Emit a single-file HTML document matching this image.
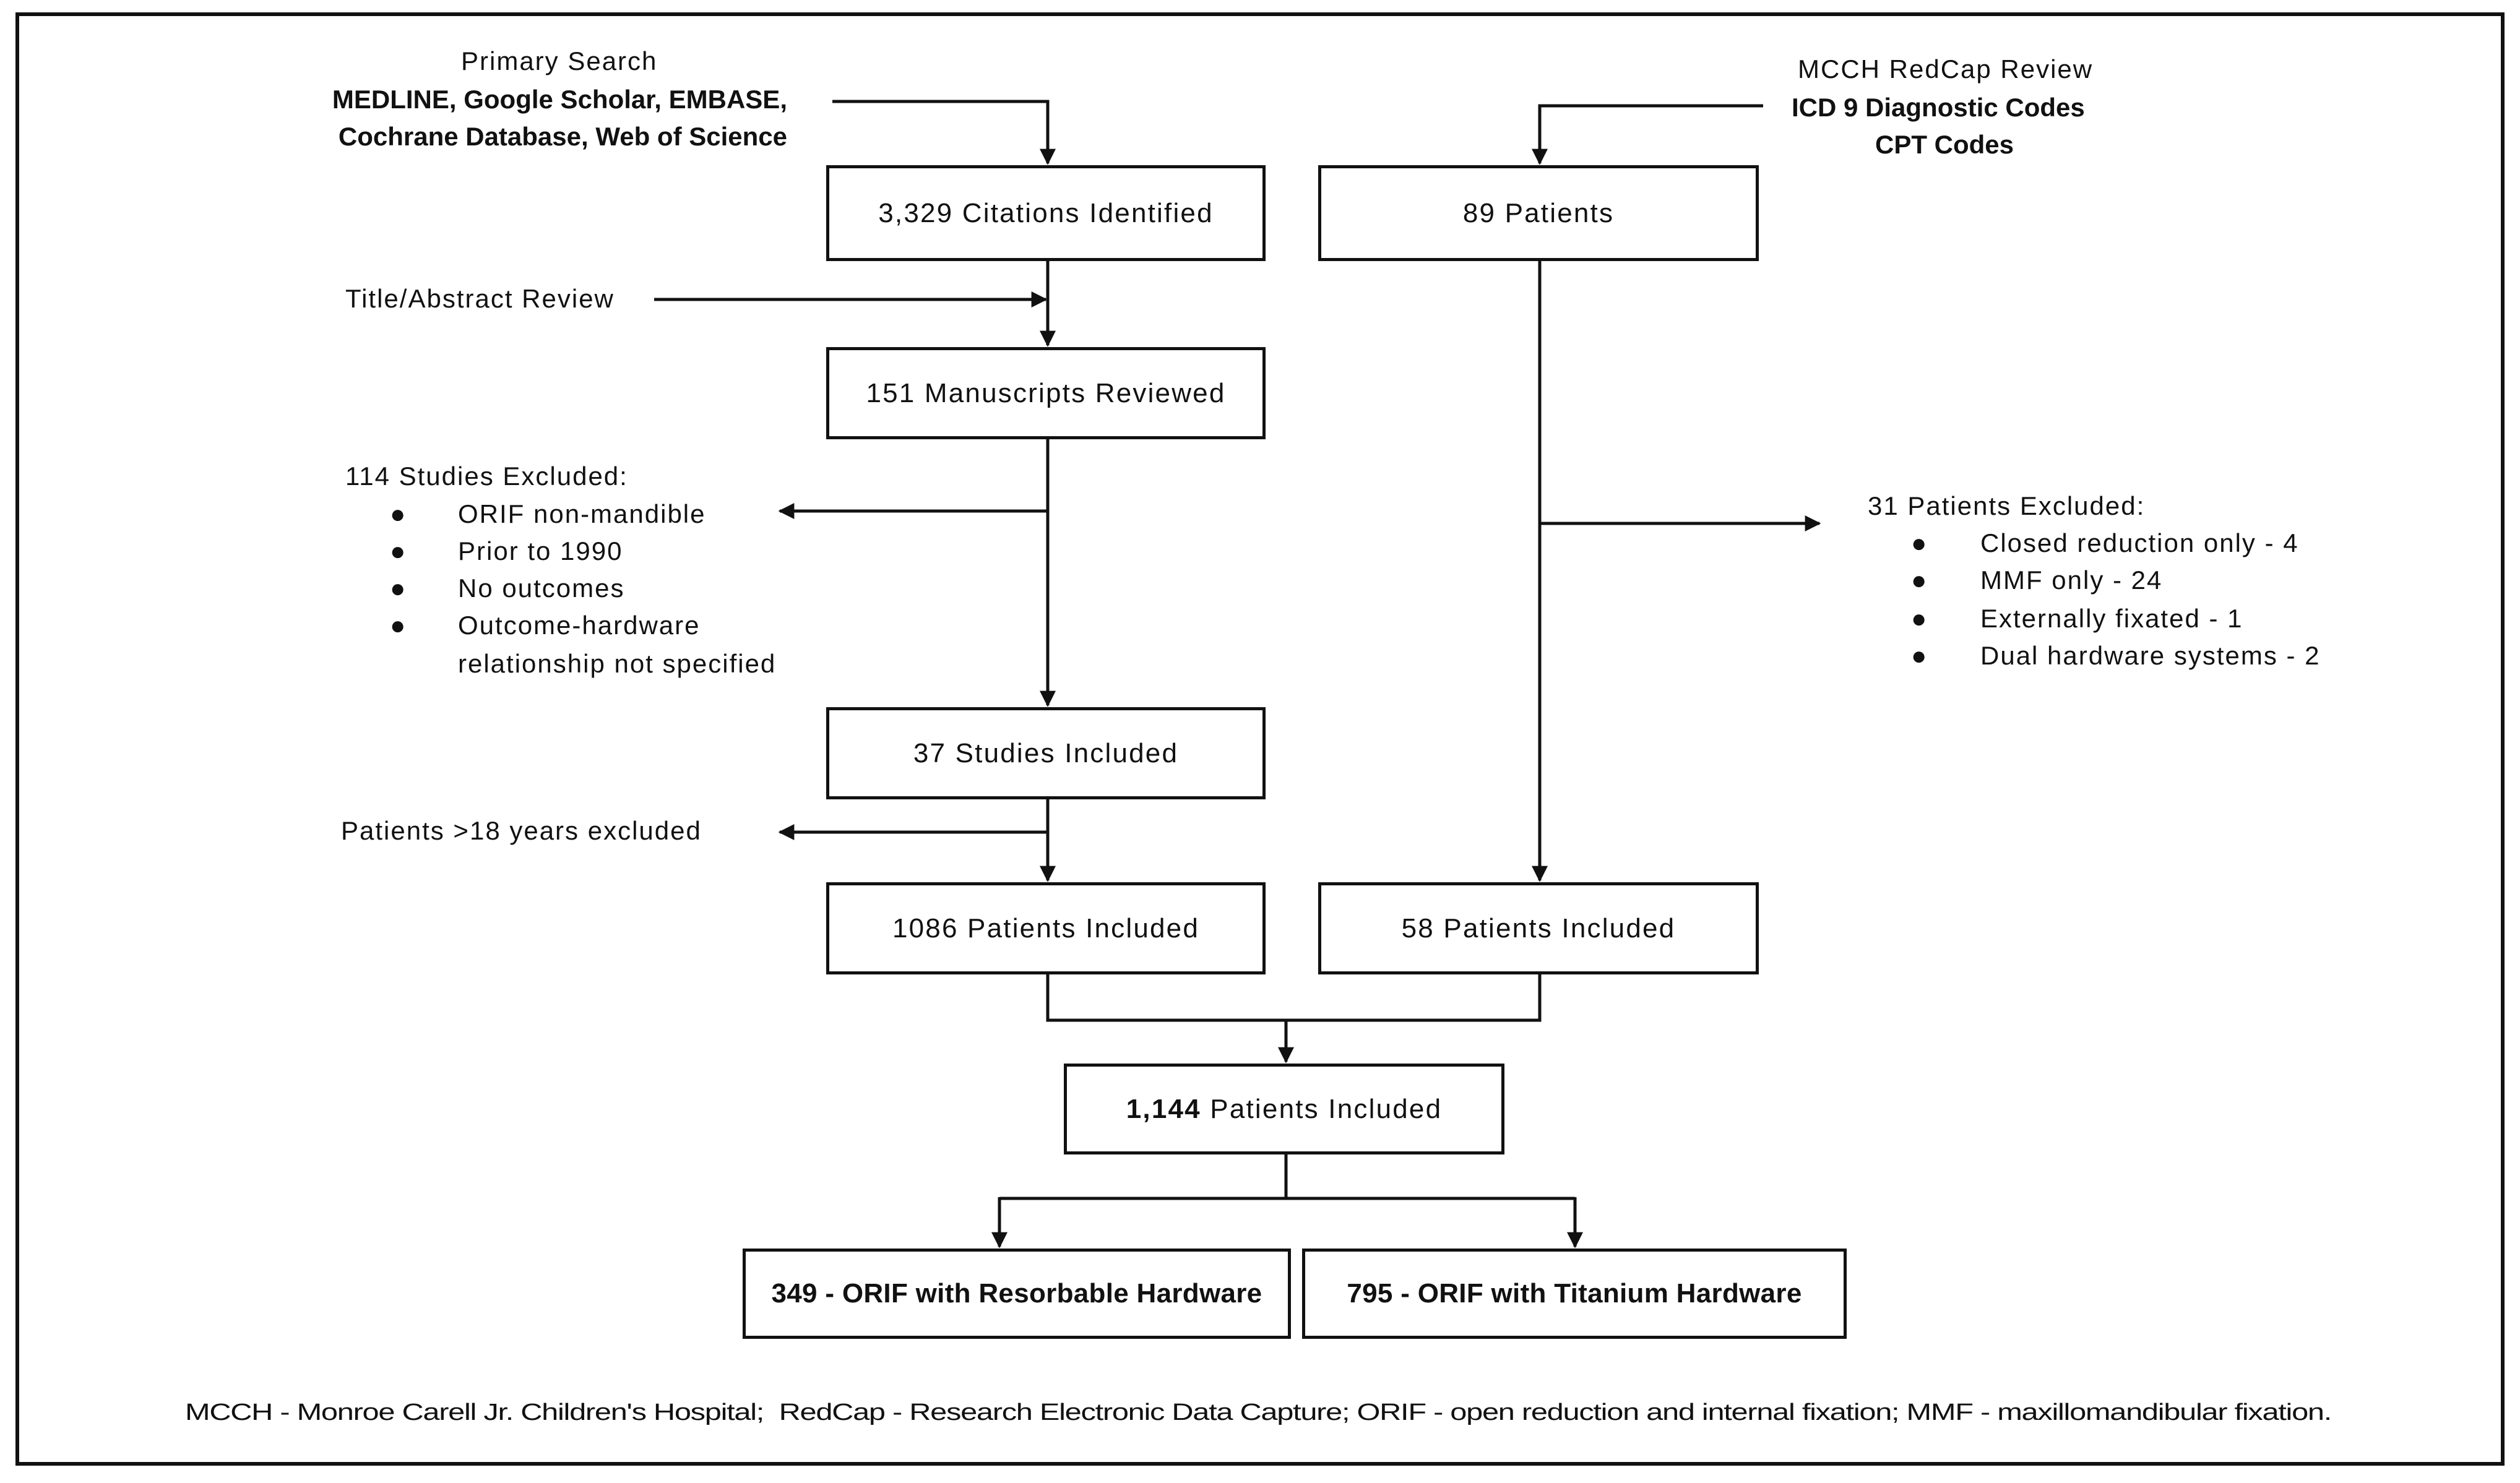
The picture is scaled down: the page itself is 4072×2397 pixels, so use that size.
<!DOCTYPE html>
<html><head><meta charset="utf-8"><style>
body{margin:0;background:#fff;}
#c{position:relative;width:4072px;height:2397px;background:#fff;overflow:hidden;font-family:"Liberation Sans",sans-serif;color:#111;}
.t{position:absolute;font-size:42px;white-space:nowrap;line-height:60px;transform:translateY(-50%);letter-spacing:2px;}
.b{font-weight:bold;}
.box{position:absolute;border:5px solid #111;box-sizing:border-box;display:flex;align-items:center;justify-content:center;font-size:44px;letter-spacing:2.2px;}
.box.b{letter-spacing:0.3px;}
svg{position:absolute;left:0;top:0;}
</style></head><body><div id="c">
<svg width="4072" height="2397">
<defs>
<marker id="m" viewBox="0 0 10 10" refX="9" refY="5" markerWidth="26" markerHeight="26" markerUnits="userSpaceOnUse" orient="auto"><path d="M0,0 L10,5 L0,10z" fill="#111"/></marker></defs>
<rect x="28" y="23" width="4016" height="2343" fill="none" stroke="#111" stroke-width="6"/>
<g stroke="#111" stroke-width="5" fill="none">
<path d="M1345 164 H1693 V264" marker-end="url(#m)"/>
<path d="M2849 171 H2488 V264" marker-end="url(#m)"/>
<path d="M1057 484 H1690" marker-end="url(#m)"/>
<path d="M1693 421 V558" marker-end="url(#m)"/>
<path d="M1693 709 V1140" marker-end="url(#m)"/>
<path d="M1693 826 H1260" marker-end="url(#m)"/>
<path d="M1693 1291 V1423" marker-end="url(#m)"/>
<path d="M1693 1345 H1260" marker-end="url(#m)"/>
<path d="M2488 421 V1423" marker-end="url(#m)"/>
<path d="M2488 846 H2940" marker-end="url(#m)"/>
<path d="M1693 1574 V1649 H2488 V1574"/>
<path d="M2078 1649 V1716" marker-end="url(#m)"/>
<path d="M2078 1865 V1937"/>
<path d="M1615 1937 H2545"/>
<path d="M1615 1935 V2015" marker-end="url(#m)"/>
<path d="M2545 1935 V2015" marker-end="url(#m)"/>
</g>
</svg>
<div class="box" style="left:1335px;top:267px;width:710px;height:155px">3,329 Citations Identified</div>
<div class="box" style="left:2130px;top:267px;width:712px;height:155px">89 Patients</div>
<div class="box" style="left:1335px;top:561px;width:710px;height:149px">151 Manuscripts Reviewed</div>
<div class="box" style="left:1335px;top:1143px;width:710px;height:149px">37 Studies Included</div>
<div class="box" style="left:1335px;top:1426px;width:710px;height:149px">1086 Patients Included</div>
<div class="box" style="left:2130px;top:1426px;width:712px;height:149px">58 Patients Included</div>
<div class="box" style="left:1719px;top:1719px;width:712px;height:147px"><b>1,144</b>&nbsp;Patients Included</div>
<div class="box b" style="left:1200px;top:2018px;width:886px;height:146px">349 - ORIF with Resorbable Hardware</div>
<div class="box b" style="left:2104px;top:2018px;width:880px;height:146px">795 - ORIF with Titanium Hardware</div>

<div class="t" style="left:745px;top:99px">Primary Search</div>
<div class="t b" style="right:2800px;top:161px;letter-spacing:0">MEDLINE, Google Scholar, EMBASE,</div>
<div class="t b" style="right:2800px;top:221px;letter-spacing:0">Cochrane Database, Web of Science</div>
<div class="t" style="left:558px;top:483px">Title/Abstract Review</div>
<div class="t" style="left:558px;top:770px">114 Studies Excluded:</div>
<div class="t" style="left:630px;top:831px">●</div><div class="t" style="left:740px;top:831px">ORIF non-mandible</div>
<div class="t" style="left:630px;top:891px">●</div><div class="t" style="left:740px;top:891px">Prior to 1990</div>
<div class="t" style="left:630px;top:951px">●</div><div class="t" style="left:740px;top:951px">No outcomes</div>
<div class="t" style="left:630px;top:1011px">●</div><div class="t" style="left:740px;top:1011px">Outcome-hardware</div>
<div class="t" style="left:740px;top:1073px">relationship not specified</div>
<div class="t" style="left:551px;top:1343px">Patients &gt;18 years excluded</div>

<div class="t" style="left:2905px;top:112px">MCCH RedCap Review</div>
<div class="t b" style="left:2895px;top:174px;letter-spacing:0">ICD 9 Diagnostic Codes</div>
<div class="t b" style="left:3030px;top:234px;letter-spacing:0">CPT Codes</div>
<div class="t" style="left:3018px;top:818px">31 Patients Excluded:</div>
<div class="t" style="left:3088px;top:878px">●</div><div class="t" style="left:3200px;top:878px">Closed reduction only - 4</div>
<div class="t" style="left:3088px;top:938px">●</div><div class="t" style="left:3200px;top:938px">MMF only - 24</div>
<div class="t" style="left:3088px;top:1000px">●</div><div class="t" style="left:3200px;top:1000px">Externally fixated - 1</div>
<div class="t" style="left:3088px;top:1060px">●</div><div class="t" style="left:3200px;top:1060px">Dual hardware systems - 2</div>

<div class="t" style="left:299px;top:2283px;font-size:38px;letter-spacing:-1px;transform:translateY(-50%) scaleX(1.283);transform-origin:left center">MCCH - Monroe Carell Jr. Children's Hospital;&nbsp; RedCap - Research Electronic Data Capture; ORIF - open reduction and internal fixation; MMF - maxillomandibular fixation.</div>
</div></body></html>
